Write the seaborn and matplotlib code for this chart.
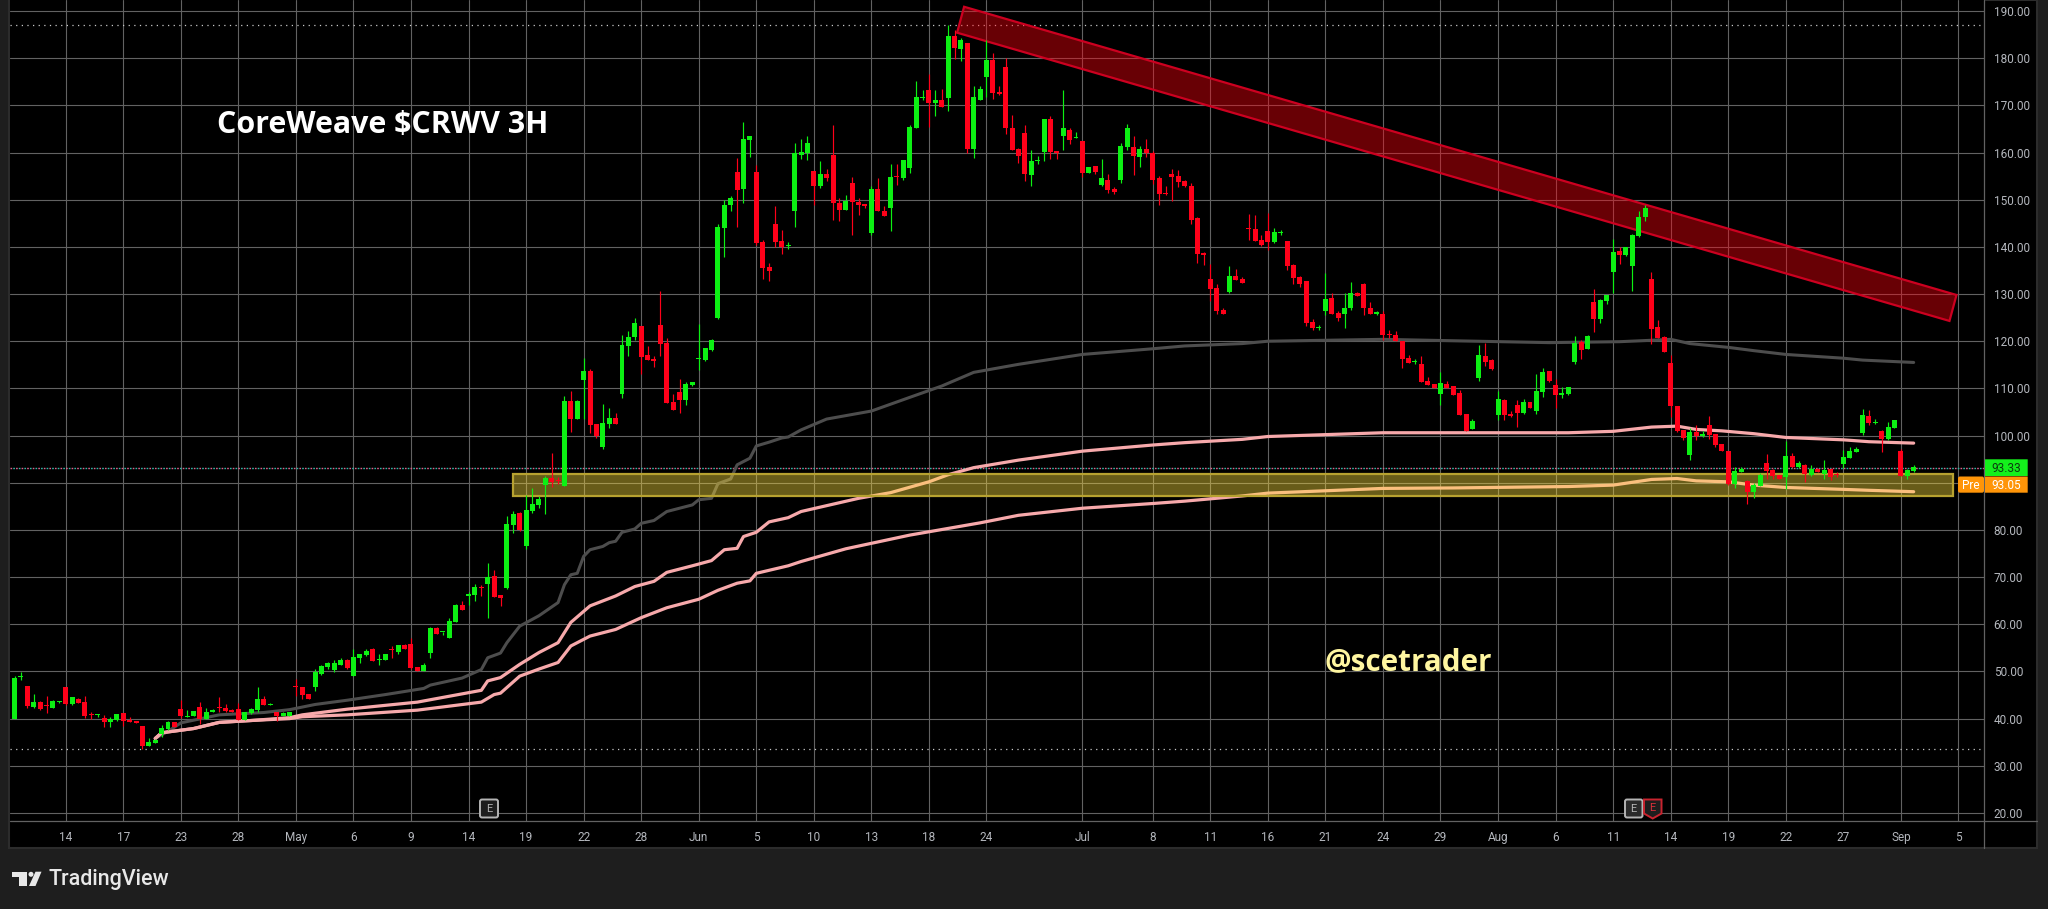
import matplotlib
matplotlib.use("Agg")
import matplotlib.pyplot as plt
from matplotlib.patches import Rectangle, Polygon, Circle, FancyBboxPatch
from matplotlib.lines import Line2D
import pandas as pd
import seaborn as sns

# Candles as (open, high, low, close)
ohlc_apr = [(40.0,49.1,40.0,48.7),(48.8,49.9,48.1,49.0),(47.0,47.0,42.2,42.6),(42.5,45.3,42.2,43.6),(43.6,43.7,41.9,42.1),
(42.8,44.9,41.1,42.6),(42.3,44.0,42.2,43.8),(43.6,43.8,43.3,43.8),(46.8,46.8,42.8,43.0),(43.0,44.6,42.9,44.5),
(44.2,44.4,43.3,43.4),(43.6,44.7,40.2,40.6),(41.0,41.4,40.0,40.7),(40.7,40.9,40.4,40.9),(40.2,40.8,38.3,39.2),
(39.2,40.4,38.3,40.0),(39.8,40.9,39.4,40.9),(41.1,41.1,38.5,39.6),(39.8,40.4,39.2,39.2),(39.4,39.6,39.0,39.0),
(38.5,38.5,33.5,34.3),(34.3,35.8,34.2,35.1),(34.9,35.7,34.8,35.5),(36.8,38.7,36.0,38.1),(37.9,39.6,37.5,39.2),
(39.2,39.2,38.2,38.2),(42.1,44.0,40.2,40.6),(40.4,41.9,40.4,40.6),(40.6,41.7,40.6,41.7),(42.5,43.6,38.9,40.0),
(40.0,42.3,40.0,41.5),(41.5,42.1,41.4,41.9),(42.4,44.5,41.3,42.2),(42.3,43.2,41.3,41.6),(41.9,42.0,41.4,41.5),
(42.1,43.3,39.8,39.8),(39.8,41.5,39.8,41.3),(41.1,42.3,41.0,42.1),(41.9,46.6,41.3,44.2),(44.2,44.7,42.8,42.8),
(42.8,43.4,42.8,43.0),(41.3,41.5,39.6,40.6),(40.6,41.3,40.6,41.1),(40.6,41.5,40.6,41.5)]
ohlc_may = [(46.9,48.5,44.9,46.6),(46.8,46.8,44.2,45.1),(45.3,45.3,44.1,44.2),(46.6,50.6,45.9,49.8),(49.5,51.4,49.3,51.2),
(51.0,51.9,50.6,51.7),(50.4,52.5,49.8,51.7),(51.4,52.9,51.4,52.5),(52.5,52.6,50.6,50.8),(49.1,54.8,49.1,53.1),
(52.9,53.8,51.7,53.6),(53.4,54.8,53.3,54.4),(54.8,55.0,52.2,52.3),(52.4,53.6,51.4,52.5),(52.5,53.7,52.5,53.6),
(54.6,55.3,52.9,54.5),(54.2,55.7,53.8,55.7),(55.7,55.8,54.8,54.8),(55.9,57.0,50.6,50.8),(51.0,51.0,50.1,50.2),
(50.2,51.7,50.2,51.4),(54.0,59.5,52.9,59.3),(59.3,59.4,58.0,58.0),(58.3,58.4,57.8,58.4),(57.0,61.4,57.0,60.8),
(60.4,64.4,60.4,64.0),(64.0,65.0,63.1,63.1),(65.9,66.9,64.0,66.5),(66.3,68.6,65.0,67.8),(67.8,68.4,65.9,67.6),
(68.6,72.9,61.4,70.0),(70.2,71.5,65.8,65.8),(66.1,66.1,63.9,65.6),(67.7,83.0,67.5,81.3),(81.1,84.1,79.4,83.4),
(83.6,83.9,79.8,80.0),(76.6,87.5,76.0,84.3),(84.1,88.9,83.6,85.5),(85.3,87.1,84.7,86.6),(89.6,91.5,83.4,91.1),
(91.1,96.4,89.2,90.2),(90.6,91.3,89.8,90.4),(89.4,108.4,89.4,107.4),(107.4,109.5,100.8,103.6),(103.6,107.6,103.6,107.4),
(111.8,116.5,103.6,113.7),(113.7,114.2,100.6,102.3),(102.5,102.5,99.5,100.0),(97.6,106.7,97.2,102.7),(102.5,105.9,101.7,103.8),
(103.8,104.8,102.5,102.5),(108.9,121.4,108.0,119.3),(119.0,122.2,116.9,121.0),(121.0,125.0,120.2,123.9),(123.3,123.3,113.1,116.7),
(117.1,119.0,116.1,116.1),(116.3,116.9,114.6,115.9),(123.5,130.7,116.9,119.5),(119.7,120.7,107.0,107.0),(107.2,108.9,105.5,105.5),
(109.3,112.0,104.8,107.6),(107.6,111.4,106.5,111.0),(110.8,111.4,110.6,111.4),(116.3,123.7,114.0,116.4),(116.1,118.6,115.9,118.6),
(118.2,120.5,118.0,120.3)]
ohlc_jun = [(125.0,144.9,124.8,144.3),(144.1,150.0,137.9,148.9),(148.9,150.8,147.7,150.4),(155.9,158.9,144.3,152.1),(152.3,166.5,149.2,162.9),
(162.7,163.6,159.1,163.6),(155.9,157.4,140.5,140.9),(141.1,141.5,133.2,135.6),(135.8,136.6,132.8,134.9),(144.9,148.7,140.0,141.1),
(141.3,143.6,138.5,140.0),(140.2,141.1,139.6,140.3),(147.7,162.1,144.3,160.0),(159.5,162.9,158.7,160.2),(160.0,163.4,158.5,162.1),
(156.1,156.1,148.9,153.0),(153.0,158.3,152.5,155.5),(155.5,156.6,154.0,154.7),(159.5,165.9,145.8,149.2),(149.4,150.4,145.5,147.9),
(147.9,151.1,147.9,149.8),(153.6,154.9,142.6,149.6),(149.6,150.4,146.8,148.9),(149.1,149.1,148.3,148.7),(143.0,153.0,142.6,152.3),
(152.3,154.5,147.5,147.5),(147.7,148.7,146.6,146.6),(148.3,157.6,143.4,154.9),(155.1,157.6,153.2,154.9),(154.5,158.5,154.2,158.5),
(156.8,165.9,155.7,165.5),(165.1,175.2,165.1,171.8),(171.5,173.3,171.2,171.7),(173.3,176.7,165.5,170.6),(170.6,173.3,167.8,171.2),
(171.2,173.5,169.7,169.7),(171.6,187.0,168.9,184.6),(184.6,186.0,179.9,182.2),(182.0,184.3,179.5,183.9),(183.3,183.3,160.0,160.8),
(160.8,174.0,158.9,171.8),(171.2,174.0,171.2,173.5),(176.1,183.9,171.8,179.7),(179.7,181.2,171.4,172.7),(172.9,174.2,172.1,172.5),
(178.2,180.1,164.0,165.1),(165.3,168.0,160.6,160.6),(160.8,161.0,157.8,159.3),(164.2,165.9,154.0,155.5),(155.3,160.6,153.0,158.1)]
ohlc_jul = [(158.1,159.3,157.6,158.4),(160.2,167.0,158.3,167.0),(167.0,167.8,158.7,160.2),(160.4,160.4,158.7,159.8),(163.4,173.3,160.6,165.1),
(164.8,165.3,161.9,162.7),(163.0,164.4,163.0,163.1),(162.5,162.5,154.9,155.7),(155.7,157.0,155.7,157.0),(157.2,157.2,155.5,155.9),
(153.2,158.7,152.8,154.5),(154.2,155.5,151.5,152.1),(152.3,152.6,151.3,151.7),(154.2,162.1,153.6,161.4),(161.2,166.1,160.6,165.3),
(161.2,163.6,155.3,159.3),(159.1,161.4,157.0,160.8),(160.8,162.9,159.1,159.8),(159.8,160.4,153.4,154.2),(154.5,155.1,148.9,151.3),
(151.5,153.0,151.1,151.3),(155.5,156.6,149.8,154.9),(155.0,156.3,152.7,153.7),(153.9,154.1,152.7,152.9),(152.9,153.5,144.8,145.7),
(146.1,146.3,136.5,138.4),(138.7,138.9,136.1,138.3),(133.1,136.3,128.5,131.0),(131.2,132.1,125.7,126.4),(126.6,127.0,125.7,125.7),
(130.4,135.9,130.2,133.8),(133.8,135.4,132.9,132.9),(133.1,133.6,132.3,132.3),(144.0,146.9,141.4,143.7),(143.7,146.7,141.2,141.2),
(141.4,142.5,140.1,140.4),(143.3,147.1,139.3,141.0),(141.0,144.0,140.8,143.1),(143.0,143.5,142.5,143.1),(141.2,141.2,135.1,135.9),
(136.1,136.3,132.1,133.4),(133.6,133.8,131.4,132.1),(132.7,132.7,123.2,123.8),(124.0,124.7,122.3,122.8),(122.8,123.4,122.3,123.0),
(126.4,134.4,125.5,128.9),(129.1,130.2,125.7,125.7),(125.9,126.4,124.2,124.9),(125.7,130.2,122.8,127.0),(127.0,132.5,126.6,130.2),
(130.2,130.4,129.5,129.5),(132.1,132.3,125.5,127.0),(127.0,128.3,125.7,125.7),(125.7,126.4,125.5,126.1),(125.7,126.4,120.2,121.3),
(121.5,122.3,120.6,121.3),(121.3,122.1,120.0,120.0),(120.0,120.0,114.3,116.2),(116.4,117.0,115.3,115.3),(115.5,116.2,115.1,115.8),
(115.1,116.8,111.3,111.3),(111.5,112.5,110.7,110.7),(110.9,110.9,110.0,110.0),(108.8,113.4,106.4,111.1),(110.9,111.5,110.0,110.0),
(110.5,110.5,108.6,108.6),(109.0,109.6,104.3,104.3),(104.5,104.5,100.9,100.9),(101.3,103.5,101.3,103.0)]
ohlc_aug = [(112.2,119.2,111.5,117.0),(116.8,119.7,114.7,115.5),(116.0,116.2,113.9,114.1),(104.3,109.4,103.3,107.7),(107.5,107.7,103.3,104.3),
(104.5,105.2,103.9,104.1),(106.4,107.5,101.8,104.7),(104.7,107.7,104.5,107.1),(107.1,107.1,105.8,105.8),(105.2,113.0,104.5,109.4),
(109.2,114.3,108.1,113.4),(113.6,113.7,111.3,111.5),(110.7,111.9,105.8,108.6),(108.6,110.2,107.9,109.0),(108.8,110.3,108.6,110.2),
(115.5,121.1,115.1,119.6),(119.8,120.2,116.2,118.1),(118.3,121.3,118.3,121.1),(128.3,131.0,121.9,124.7),(124.7,128.9,123.8,128.7),
(128.5,129.8,127.8,129.8),(134.6,141.6,130.3,138.9),(139.1,139.9,136.3,138.2),(138.2,139.9,138.0,139.9),(135.9,142.7,130.6,142.5),
(142.3,147.6,142.1,146.3),(146.3,148.8,145.4,148.2),(133.1,134.6,119.4,122.5),(123.0,124.5,120.6,120.6),(120.8,121.1,117.7,117.7),
(115.3,117.0,103.9,106.2),(106.2,106.2,100.7,100.9),(101.1,101.1,99.0,99.4),(95.8,101.6,94.8,100.7),(100.7,102.2,99.0,99.9),
(100.0,100.9,99.6,100.3),(102.2,104.1,99.2,100.1),(100.3,100.3,97.5,98.0),(98.2,98.2,96.7,96.7),(96.7,96.7,89.5,89.7),
(89.7,93.3,88.8,92.4),(92.2,93.3,92.2,93.0),(90.3,90.5,85.4,88.0),(88.0,89.9,86.7,89.5),(89.3,92.0,89.3,91.6),
(94.1,96.0,90.7,92.4),(92.7,92.9,90.7,91.4),(91.6,91.6,90.7,90.7),(91.2,98.8,88.6,95.6),(95.6,96.3,93.1,93.3),
(93.3,94.6,93.2,94.1),(93.7,93.9,90.1,91.8),(91.6,93.7,91.4,93.0),(93.0,93.1,92.2,92.2),(91.8,94.8,90.7,92.8),
(92.9,93.1,90.5,91.3),(91.8,92.2,91.2,91.6),(93.9,96.9,93.1,95.4),(95.2,97.5,95.2,96.7),(96.5,97.5,96.5,97.1)]
ohlc_sep = [(100.5,105.6,100.1,104.3),(104.1,105.4,102.2,102.6),(102.6,103.5,102.4,102.8),(100.9,101.1,96.5,99.2),(99.2,102.8,99.0,101.8),
(101.6,103.3,101.6,103.3),(96.7,97.1,91.4,91.4),(91.4,92.9,90.7,92.7),(92.4,93.7,92.2,93.3)]

# Moving averages: bar number (counted from the first candle) and price
ma_grey_bar = [22,24,26,32,39,43,47,52,58,64,65,70,73,74,76,77,79,82,85,86,87,88,89,90,92,93,94,95,97,98,100,102,104,106,107,109,110,112,113,115,116,118,120,121,123,127,134,140,145,150,157,167,178,183,192,196,214,225,240,251,256,259,262,268,272,277,286,289,297]
ma_grey_val = [35.8,37.3,39.1,40.8,41.3,41.9,43.0,43.9,45.1,46.4,47.1,48.6,50.4,52.9,53.9,56.1,59.6,61.8,64.6,68.4,70.5,70.8,74.4,75.8,76.5,77.3,77.6,79.5,80.2,81.4,82.0,83.9,84.6,85.3,86.4,86.7,89.8,90.8,93.8,95.2,97.8,98.6,99.5,99.7,101.2,103.5,105.2,108.1,110.5,113.4,115.1,117.2,118.4,119.0,119.5,120.0,120.4,120.1,119.7,119.9,120.2,120.4,119.5,118.7,118.0,117.2,116.4,116.0,115.5]
ma_upper_bar = [22,23,28,32,37,43,45,52,63,65,73,74,76,79,82,85,87,90,94,97,100,102,106,109,111,113,114,116,118,121,123,132,137,143,146,150,157,167,178,183,192,196,214,225,243,250,256,260,263,267,272,277,286,290,297]
ma_upper_val = [35.8,37.0,37.9,39.2,39.6,40.2,40.8,42.0,43.5,44.0,46.0,48.0,48.7,51.5,54.0,56.1,60.4,63.9,66.0,68.0,69.1,71.0,72.4,73.5,75.8,76.1,78.6,79.5,81.7,82.6,83.9,86.7,87.9,90.2,91.7,93.2,94.8,96.7,98.0,98.5,99.2,99.8,100.6,100.6,100.6,100.9,101.8,102.0,101.3,101.0,100.4,99.6,99.1,98.7,98.4]
ma_lower_bar = [22,23,28,32,37,43,45,52,63,73,75,76,79,82,85,87,90,94,98,102,107,110,113,115,116,121,123,130,140,151,157,167,178,183,192,196,214,225,243,250,256,260,263,268,272,277,286,290,297]
ma_lower_val = [35.8,37.0,37.9,39.2,39.6,40.0,40.4,40.8,41.8,43.5,45.1,45.4,49.0,50.5,51.9,55.4,57.5,58.9,61.4,63.5,65.3,67.2,68.7,69.2,70.8,72.4,73.3,76.0,78.9,81.5,83.1,84.6,85.6,86.1,87.2,87.8,88.8,88.9,89.2,89.5,90.7,90.9,90.4,90.2,89.5,89.0,88.6,88.4,88.1]

# Axis labels
y_ticks = [20,30,40,50,60,70,80,90,100,110,120,130,140,150,160,170,180,190]
tick_bars = [0,9,18,27,36,45,54,63,72,81,90,99,108,117,126,135,144,159,170,179,188,197,206,215,224,233,242,251,260,269,278,287,296]
tick_labels = ["14","17","23","28","May","6","9","14","19","22","28","Jun","5","10","13","18","24","Jul","8","11","16","21","24","29","Aug","6","11","14","19","22","27","Sep","5"]
first_bar = -8

# Drawings, as (bar, price)
channel_pts = [(140.5,190.9),(295.7,129.8),(294.6,124.3),(139.4,185.4)]
zone_bars = (69.9,295.2)
zone_prices = (87.2,91.9)
high_level = 187.0
low_level = 33.5
last_level = 93.07

W, H = 2048, 909
sns.set_theme(style="dark", rc={"axes.grid": False})
plt.rcParams['font.family'] = ['Roboto', 'DejaVu Sans']

fig = plt.figure(figsize=(W/100, H/100), dpi=100, facecolor="#1e1e1e")
fig.add_artist(Rectangle((9/W, 1-848/H), (2037-9)/W, 848/H, transform=fig.transFigure,
                         facecolor="black", edgecolor="#2c2c2c", lw=1.5, zorder=-1))
ax = fig.add_axes([10/W, 1-821/H, (1984-10)/W, 821/H], facecolor="black")
ax.set_xlim(-8.71, 300.0)
ax.set_ylim(18.3, 192.33)

frame = pd.DataFrame(ohlc_apr+ohlc_may+ohlc_jun+ohlc_jul+ohlc_aug+ohlc_sep, columns=["o","h","l","c"])
frame["bar"] = frame.index + first_bar
frame["up"] = frame.c >= frame.o
GREEN, RED = "#0cf013", "#ff0019"
colors = frame.up.map({True: GREEN, False: RED})

ax.set_xticks(tick_bars)
ax.set_xticklabels(tick_labels)
ax.set_yticks(y_ticks)
ax.set_yticklabels([f"{v:.2f}" for v in y_ticks])
ax.yaxis.tick_right()
ax.tick_params(axis="both", length=0, labelsize=8.5, labelcolor="#b4b7bd")
ax.tick_params(axis="x", pad=7)
ax.tick_params(axis="y", pad=7)
ax.grid(True, color="#626262", lw=0.8, zorder=0)
ax.set_axisbelow(True)
for s in ax.spines.values():
    s.set_visible(False)

for level in (high_level, low_level):
    ax.axhline(level, color="#c8c8c8", lw=0.9, ls=(0, (1, 3.5)), zorder=1)
ax.axhline(last_level, color="#e0608c", lw=1.0, ls=(0, (1.2, 2.8)), zorder=1)
ax.axhline(last_level, color="#2fb8a8", lw=1.0, ls=(2, (1.2, 2.8)), zorder=1)

ma_sets = [(ma_grey_bar, ma_grey_val, "#4d4d4d", 2.2, 2),
           (ma_upper_bar, ma_upper_val, "#f7a9ab", 2.3, 2.2),
           (ma_lower_bar, ma_lower_val, "#f7a9ab", 2.3, 2.2)]
for bars, vals, col, lw, z in ma_sets:
    d = pd.DataFrame({"bar": [b + first_bar for b in bars], "val": vals})
    sns.lineplot(data=d, x="bar", y="val", ax=ax, color=col, lw=lw, estimator=None,
                 sort=False, legend=False, zorder=z)
ax.set_xlabel("")
ax.set_ylabel("")

ax.add_patch(Rectangle((zone_bars[0], zone_prices[0]), zone_bars[1]-zone_bars[0], zone_prices[1]-zone_prices[0],
                       facecolor=(1.0, 0.88, 0.24, 0.41), edgecolor="#b7a230", lw=1.6, zorder=3))
ax.add_patch(Polygon(channel_pts, closed=True, facecolor=(1.0, 0.0, 0.05, 0.41),
                     edgecolor="#cc0020", lw=1.6, zorder=3))

ax.vlines(frame.bar, frame.l, frame.h, colors=colors, lw=0.85, zorder=4)
ax.bar(frame.bar, (frame.c-frame.o).abs().clip(lower=0.22), bottom=frame[["o","c"]].min(axis=1),
       width=0.78, color=colors, linewidth=0, zorder=4.1)

ax.text(0.1049, 0.8475, "CoreWeave \\$CRWV 3H", transform=ax.transAxes, color="white", fontsize=21.9,
        fontweight="bold", family=["Open Sans", "DejaVu Sans"], va="center", ha="left", zorder=6)
ax.text(0.6657, 0.1935, "@scetrader", transform=ax.transAxes, color="#fff6a0", fontsize=21.3,
        fontweight="bold", family=["Open Sans", "DejaVu Sans"], va="center", ha="left", zorder=6)

def fx(x): return x/W
def fy(y): return 1-y/H

t = matplotlib.transforms.Affine2D().scale(1/W, 1/H) + fig.transFigure

# panel separators
fig.add_artist(Line2D([fx(1984), fx(1984)], [fy(0), fy(848)], color="#626262", lw=0.9))
fig.add_artist(Line2D([fx(10), fx(2037)], [fy(821), fy(821)], color="#626262", lw=0.9))

def box(x0, y0, x1, y1, fc, ec=None, lw=0, style="square"):
    fig.add_artist(FancyBboxPatch((x0, H-y1), x1-x0, y1-y0,
                                  boxstyle=f"round,pad=0,rounding_size={2 if style=='round' else 0.01}",
                                  transform=t, facecolor=fc, edgecolor=ec if ec else fc, lw=lw, zorder=5))

def tx(x, y, s, color, size=8.5, weight="normal", ha="center", fam=None):
    fig.text(fx(x), fy(y), s, color=color, fontsize=size, fontweight=weight, ha=ha, va="center",
             family=fam or ['Roboto', 'DejaVu Sans'], zorder=6)

box(1985, 459.3, 2027.7, 476, "#14f01c")
tx(2006.5, 468, "93.33", "#0c3a10")
box(1985, 476.5, 2027.7, 492.7, "#ff9508")
tx(2006.5, 485, "93.05", "white")
box(1958, 476.5, 1984, 492.7, "#ff9508", style="round")
tx(1971, 485, "Pre", "white")

# earnings markers
box(480, 799.5, 498, 817.5, "#1e1e1e", "#b4b4b4", 1.4, "round")
tx(489, 808.6, "E", "#b4b4b4", 8)
box(1625, 799.5, 1642.5, 817.5, "#2a2a2a", "#b4b4b4", 1.4, "round")
tx(1633.7, 808.6, "E", "#b4b4b4", 8)
fig.add_artist(Polygon([(1644, H-799.5), (1661.5, H-799.5), (1661.5, H-813.5), (1652.7, H-818.5), (1644, H-813.5)],
                       closed=True, transform=t, facecolor="#1e1e1e", edgecolor="#c9242f", lw=1.4, zorder=5))
tx(1652.7, 808.2, "E", "#d8303a", 8)

# TradingView mark
fig.add_artist(Polygon([(12, H-871.7), (27, H-871.7), (27, H-886), (19, H-886), (19, H-876.7), (12, H-876.7)],
                       closed=True, transform=t, facecolor="#e8e8e8", edgecolor="none", zorder=5))
fig.add_artist(Polygon([(35.5, H-871.7), (41.5, H-871.7), (35.5, H-886), (29, H-886)],
                       closed=True, transform=t, facecolor="#e8e8e8", edgecolor="none", zorder=5))
fig.add_artist(Circle((31, H-874.3), 2.5, transform=t, facecolor="#e8e8e8", edgecolor="none", zorder=5))
tx(48.5, 879.5, "TradingView", "#e8e8e8", 15.5, "medium", "left", ["Roboto", "DejaVu Sans"])

fig.savefig("out.png", dpi=100, facecolor=fig.get_facecolor())
